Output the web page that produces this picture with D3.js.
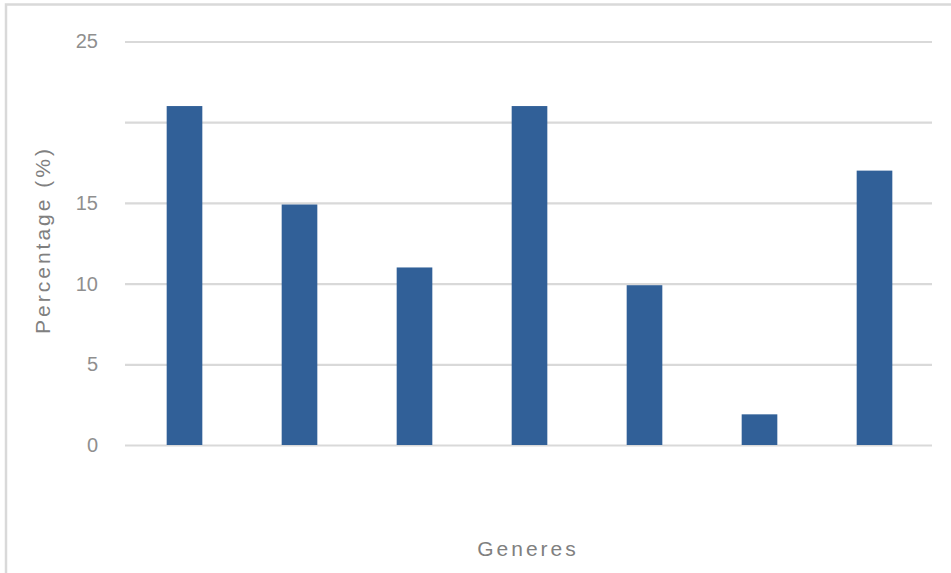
<!DOCTYPE html>
<html>
<head>
<meta charset="utf-8">
<script src="https://cdn.jsdelivr.net/npm/d3@7"></script>
<style>
  html, body { margin: 0; padding: 0; background: #fff; overflow: hidden; }
  svg { display: block; font-family: "Liberation Sans", Arial, sans-serif; }
</style>
</head>
<body>
<svg id="chart" width="951" height="573"></svg>
<script>
// Share of each genre, in percent
const categories = ["Genre 1", "Genre 2", "Genre 3", "Genre 4", "Genre 5", "Genre 6", "Genre 7"];
const values = [21.0, 14.9, 11.0, 21.0, 9.9, 1.9, 17.0];
const tickValues = [0, 5, 10, 15, 20, 25];
const tickLabels = ["0", "5", "10", "15", "", "25"];
const xTitle = "Generes";
const yTitle = "Percentage (%)";

const svg = d3.select("#chart");

// Chart frame (light grey border)
svg.append("rect")
  .attr("x", 6).attr("y", 4.5)
  .attr("width", 1000).attr("height", 1000)
  .attr("fill", "none")
  .attr("stroke", "#d9d9d9")
  .attr("stroke-width", 2.5);

const x = d3.scaleBand()
  .domain(categories)
  .range([127, 932])
  .paddingInner(0.69)
  .paddingOuter(0.345);

const y = d3.scaleLinear()
  .domain([0, 25])
  .range([445, 41.5]);

// Horizontal gridlines
const yAxis = d3.axisLeft(y)
  .tickValues(tickValues)
  .tickSize(-(932 - 125))
  .tickPadding(27)
  .tickFormat((d, i) => tickLabels[i]);

const gy = svg.append("g")
  .attr("transform", "translate(125,0)")
  .call(yAxis);
gy.select(".domain").remove();
gy.selectAll(".tick line")
  .attr("stroke", "#d9d9d9")
  .attr("stroke-width", 2.2);
gy.selectAll(".tick text")
  .attr("fill", "#8f8f8f")
  .attr("font-size", 20)
  .attr("font-family", "Liberation Sans, Arial, sans-serif");

// Bars
svg.append("g")
  .selectAll("rect")
  .data(values)
  .join("rect")
  .attr("x", (d, i) => x(categories[i]))
  .attr("width", x.bandwidth())
  .attr("y", d => y(d))
  .attr("height", d => y(0) - y(d))
  .attr("fill", "#316098");

// Axis titles
svg.append("text")
  .attr("x", 528)
  .attr("y", 556)
  .attr("text-anchor", "middle")
  .attr("font-size", 21)
  .attr("letter-spacing", 3)
  .attr("fill", "#808080")
  .text(xTitle);

svg.append("text")
  .attr("transform", "translate(50,240) rotate(-90)")
  .attr("text-anchor", "middle")
  .attr("font-size", 21)
  .attr("letter-spacing", 3)
  .attr("fill", "#808080")
  .text(yTitle);
</script>
</body>
</html>
